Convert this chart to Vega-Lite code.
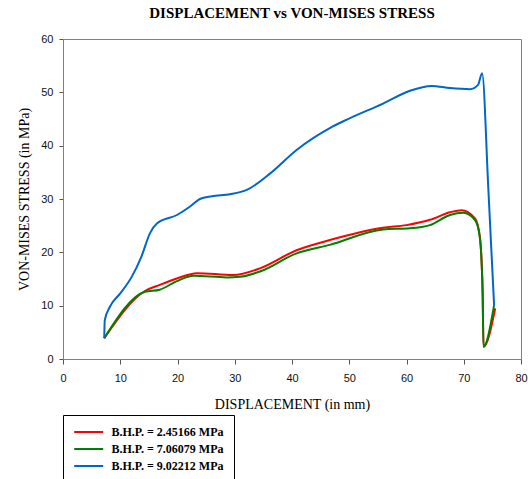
{
  "$schema": "https://vega.github.io/schema/vega-lite/v6.json",
  "width": 458,
  "height": 320,
  "autosize": {"type": "none"},
  "padding": {"left": 63, "top": 39, "right": 7, "bottom": 120},
  "background": "white",
  "title": {
    "text": "DISPLACEMENT vs VON-MISES STRESS",
    "font": "Liberation Serif",
    "fontSize": 15,
    "fontWeight": "bold",
    "color": "black",
    "anchor": "middle",
    "offset": 12
  },
  "config": {
    "view": {"stroke": "#808080", "strokeWidth": 1},
    "axis": {
      "grid": false,
      "domainColor": "#808080",
      "tickColor": "#555555",
      "labelFont": "Liberation Sans",
      "labelFontSize": 11,
      "labelColor": "#111111",
      "titleFont": "Liberation Serif",
      "titleFontSize": 14,
      "titleFontWeight": "normal",
      "titleColor": "black"
    }
  },
  "data": {
    "values": [
      {"s": "B.H.P. = 2.45166 MPa", "x": 7.2, "y": 3.9},
      {"s": "B.H.P. = 2.45166 MPa", "x": 14.3, "y": 12.75},
      {"s": "B.H.P. = 2.45166 MPa", "x": 16.9, "y": 13.9},
      {"s": "B.H.P. = 2.45166 MPa", "x": 19.9, "y": 15.1},
      {"s": "B.H.P. = 2.45166 MPa", "x": 23.4, "y": 16.1},
      {"s": "B.H.P. = 2.45166 MPa", "x": 29.7, "y": 15.75},
      {"s": "B.H.P. = 2.45166 MPa", "x": 34.4, "y": 17.0},
      {"s": "B.H.P. = 2.45166 MPa", "x": 40.8, "y": 20.4},
      {"s": "B.H.P. = 2.45166 MPa", "x": 46.6, "y": 22.3},
      {"s": "B.H.P. = 2.45166 MPa", "x": 55.9, "y": 24.6},
      {"s": "B.H.P. = 2.45166 MPa", "x": 60.0, "y": 25.1},
      {"s": "B.H.P. = 2.45166 MPa", "x": 64.1, "y": 26.1},
      {"s": "B.H.P. = 2.45166 MPa", "x": 67.6, "y": 27.5},
      {"s": "B.H.P. = 2.45166 MPa", "x": 69.6, "y": 27.9},
      {"s": "B.H.P. = 2.45166 MPa", "x": 72.0, "y": 26.3},
      {"s": "B.H.P. = 2.45166 MPa", "x": 72.8, "y": 23.0},
      {"s": "B.H.P. = 2.45166 MPa", "x": 73.1, "y": 18.6},
      {"s": "B.H.P. = 2.45166 MPa", "x": 73.3, "y": 12.4},
      {"s": "B.H.P. = 2.45166 MPa", "x": 73.45, "y": 2.3},
      {"s": "B.H.P. = 2.45166 MPa", "x": 75.5, "y": 9.5},
      {"s": "B.H.P. = 7.06079 MPa", "x": 7.2, "y": 3.9},
      {"s": "B.H.P. = 7.06079 MPa", "x": 14.3, "y": 12.6},
      {"s": "B.H.P. = 7.06079 MPa", "x": 16.9, "y": 13.0},
      {"s": "B.H.P. = 7.06079 MPa", "x": 19.9, "y": 14.6},
      {"s": "B.H.P. = 7.06079 MPa", "x": 22.8, "y": 15.6},
      {"s": "B.H.P. = 7.06079 MPa", "x": 28.6, "y": 15.3},
      {"s": "B.H.P. = 7.06079 MPa", "x": 30.9, "y": 15.4},
      {"s": "B.H.P. = 7.06079 MPa", "x": 34.4, "y": 16.4},
      {"s": "B.H.P. = 7.06079 MPa", "x": 40.8, "y": 19.8},
      {"s": "B.H.P. = 7.06079 MPa", "x": 46.6, "y": 21.4},
      {"s": "B.H.P. = 7.06079 MPa", "x": 55.9, "y": 24.3},
      {"s": "B.H.P. = 7.06079 MPa", "x": 60.6, "y": 24.5},
      {"s": "B.H.P. = 7.06079 MPa", "x": 64.1, "y": 25.1},
      {"s": "B.H.P. = 7.06079 MPa", "x": 67.6, "y": 27.0},
      {"s": "B.H.P. = 7.06079 MPa", "x": 69.9, "y": 27.4},
      {"s": "B.H.P. = 7.06079 MPa", "x": 72.0, "y": 26.0},
      {"s": "B.H.P. = 7.06079 MPa", "x": 72.8, "y": 22.9},
      {"s": "B.H.P. = 7.06079 MPa", "x": 73.1, "y": 18.6},
      {"s": "B.H.P. = 7.06079 MPa", "x": 73.3, "y": 12.4},
      {"s": "B.H.P. = 7.06079 MPa", "x": 73.45, "y": 2.3},
      {"s": "B.H.P. = 7.06079 MPa", "x": 75.3, "y": 10.1},
      {"s": "B.H.P. = 9.02212 MPa", "x": 7.2, "y": 3.9},
      {"s": "B.H.P. = 9.02212 MPa", "x": 7.3, "y": 7.3},
      {"s": "B.H.P. = 9.02212 MPa", "x": 8.2, "y": 9.8},
      {"s": "B.H.P. = 9.02212 MPa", "x": 10.0, "y": 12.3},
      {"s": "B.H.P. = 9.02212 MPa", "x": 12.0, "y": 15.4},
      {"s": "B.H.P. = 9.02212 MPa", "x": 13.7, "y": 19.2},
      {"s": "B.H.P. = 9.02212 MPa", "x": 15.2, "y": 23.6},
      {"s": "B.H.P. = 9.02212 MPa", "x": 16.4, "y": 25.4},
      {"s": "B.H.P. = 9.02212 MPa", "x": 19.9, "y": 27.0},
      {"s": "B.H.P. = 9.02212 MPa", "x": 22.2, "y": 28.6},
      {"s": "B.H.P. = 9.02212 MPa", "x": 23.9, "y": 30.0},
      {"s": "B.H.P. = 9.02212 MPa", "x": 26.0, "y": 30.5},
      {"s": "B.H.P. = 9.02212 MPa", "x": 29.2, "y": 30.9},
      {"s": "B.H.P. = 9.02212 MPa", "x": 32.1, "y": 31.7},
      {"s": "B.H.P. = 9.02212 MPa", "x": 36.2, "y": 34.8},
      {"s": "B.H.P. = 9.02212 MPa", "x": 40.8, "y": 39.2},
      {"s": "B.H.P. = 9.02212 MPa", "x": 46.6, "y": 43.3},
      {"s": "B.H.P. = 9.02212 MPa", "x": 49.6, "y": 44.9},
      {"s": "B.H.P. = 9.02212 MPa", "x": 55.9, "y": 47.9},
      {"s": "B.H.P. = 9.02212 MPa", "x": 60.6, "y": 50.3},
      {"s": "B.H.P. = 9.02212 MPa", "x": 64.4, "y": 51.2},
      {"s": "B.H.P. = 9.02212 MPa", "x": 67.6, "y": 50.8},
      {"s": "B.H.P. = 9.02212 MPa", "x": 71.1, "y": 50.6},
      {"s": "B.H.P. = 9.02212 MPa", "x": 72.5, "y": 51.4},
      {"s": "B.H.P. = 9.02212 MPa", "x": 73.2, "y": 53.6},
      {"s": "B.H.P. = 9.02212 MPa", "x": 74.3, "y": 31.8},
      {"s": "B.H.P. = 9.02212 MPa", "x": 75.3, "y": 10.1}
    ]
  },
  "mark": {"type": "line", "interpolate": "monotone", "strokeWidth": 2},
  "encoding": {
    "x": {
      "field": "x",
      "type": "quantitative",
      "scale": {"domain": [0, 80], "nice": false, "zero": false},
      "axis": {
        "title": "DISPLACEMENT (in mm)",
        "values": [0, 10, 20, 30, 40, 50, 60, 70, 80],
        "tickSize": 5,
        "labelPadding": 8,
        "titlePadding": 14,
        "labelFlush": false
      }
    },
    "y": {
      "field": "y",
      "type": "quantitative",
      "scale": {"domain": [0, 60], "nice": false},
      "axis": {
        "title": "VON-MISES STRESS (in MPa)",
        "values": [0, 10, 20, 30, 40, 50, 60],
        "tickSize": 4,
        "labelPadding": 6,
        "titlePadding": 9,
        "labelFlush": false
      }
    },
    "color": {
      "field": "s",
      "type": "nominal",
      "scale": {
        "domain": ["B.H.P. = 2.45166 MPa", "B.H.P. = 7.06079 MPa", "B.H.P. = 9.02212 MPa"],
        "range": ["#FF0000", "#008000", "#0066CC"]
      },
      "legend": {
        "orient": "none",
        "legendX": 0,
        "legendY": 376,
        "title": null,
        "strokeColor": "black",
        "fillColor": "white",
        "padding": 10,
        "symbolType": "M-1,0H4",
        "symbolSize": 134.6,
        "symbolStrokeWidth": 2,
        "labelFont": "Liberation Serif",
        "labelFontSize": 12,
        "labelFontWeight": "bold",
        "labelColor": "black",
        "labelOffset": 24.4,
        "rowPadding": 4
      }
    }
  }
}
